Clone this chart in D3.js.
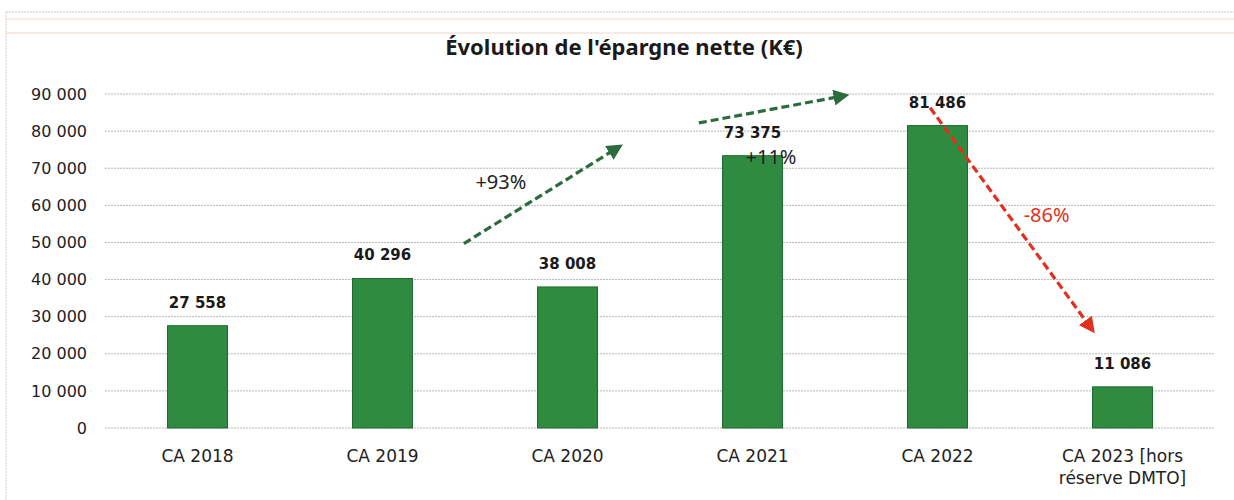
<!DOCTYPE html>
<html>
<head>
<meta charset="utf-8">
<script src="https://cdn.jsdelivr.net/npm/d3@7"></script>
<style>
  body { margin: 0; background: #fff; }
  svg { display: block; font-family: "DejaVu Sans", sans-serif; }
</style>
</head>
<body>
<script>
const categories = ["CA 2018", "CA 2019", "CA 2020", "CA 2021", "CA 2022", "CA 2023 [hors réserve DMTO]"];
const values = [27558, 40296, 38008, 73375, 81486, 11086];
const valueLabels = ["27 558", "40 296", "38 008", "73 375", "81 486", "11 086"];
const yTicks = [0, 10000, 20000, 30000, 40000, 50000, 60000, 70000, 80000, 90000];

// annotation arrows, anchored in category / value space
const arrows = [
  { from: ["CA 2019", 0.44, 49700], to: ["CA 2020", 0.27, 75500], color: "#2c6b3c" },
  { from: ["CA 2021", -0.29, 82200], to: ["CA 2022", -0.51, 89500], color: "#2c6b3c" },
  { from: ["CA 2022", -0.04, 86300], to: ["CA 2023 [hors réserve DMTO]", -0.17, 26900], color: "#e0301e" }
];
const notes = [
  { text: "+93%", at: ["CA 2019", 0.64, 64500], color: "#222" },
  { text: "+11%", at: ["CA 2021", 0.10, 71200], color: "#222" },
  { text: "-86%", at: ["CA 2023 [hors réserve DMTO]", -0.41, 55600], color: "#e0301e" }
];

const W = 1234, H = 500;
const margin = { left: 105, right: 19, top: 94, bottom: 72 };

const svg = d3.select("body").append("svg").attr("width", W).attr("height", H);

// page frame
svg.append("line").attr("x1", 6).attr("x2", W).attr("y1", 12).attr("y2", 12)
  .attr("stroke", "#c8c8c8").attr("stroke-dasharray", "2,1");
svg.append("line").attr("x1", 6).attr("x2", W).attr("y1", 19).attr("y2", 19)
  .attr("stroke", "#f0dccc");
svg.append("line").attr("x1", 6).attr("x2", W).attr("y1", 33).attr("y2", 33)
  .attr("stroke", "#f0d6c6");
svg.append("line").attr("x1", 6).attr("x2", 6).attr("y1", 12).attr("y2", H)
  .attr("stroke", "#cfcfcf").attr("stroke-dasharray", "2,1");

svg.append("text").attr("x", 624).attr("y", 55).attr("text-anchor", "middle")
  .attr("font-family", "\"Noto Sans\", sans-serif")
  .attr("font-size", 22).attr("font-weight", "bold").attr("fill", "#1a1a1a")
  .text("Évolution de l'épargne nette (K€)");

const x = d3.scaleBand().domain(categories)
  .range([margin.left, W - margin.right])
  .paddingInner(0.676).paddingOuter(0.338);

const y = d3.scaleLinear().domain([0, 90000]).range([H - margin.bottom, margin.top]);

// grid
svg.append("g").selectAll("line").data(yTicks).join("line")
  .attr("x1", margin.left).attr("x2", W - margin.right)
  .attr("y1", d => y(d)).attr("y2", d => y(d))
  .attr("stroke", "#b8b8b8").attr("stroke-width", 1).attr("stroke-dasharray", "2,1");

// y axis labels
const yAxis = d3.axisLeft(y).tickValues(yTicks).tickSize(0).tickPadding(18)
  .tickFormat(d => d3.format(",")(d).replace(/,/g, " "));
const gy = svg.append("g").attr("transform", "translate(" + margin.left + ",0)").call(yAxis);
gy.select(".domain").remove();
gy.selectAll("text").attr("font-size", 16).attr("fill", "#222")
  .attr("font-family", "\"DejaVu Sans\", sans-serif");

// bars
svg.append("g").selectAll("rect").data(values).join("rect")
  .attr("x", (d, i) => x(categories[i]))
  .attr("y", d => y(d))
  .attr("width", x.bandwidth())
  .attr("height", d => y(0) - y(d))
  .attr("fill", "#2e8b40").attr("stroke", "#1d6a2e").attr("stroke-width", 1);

// value labels
svg.append("g").selectAll("text").data(values).join("text")
  .attr("x", (d, i) => x(categories[i]) + x.bandwidth() / 2)
  .attr("y", d => y(d) - 18)
  .attr("text-anchor", "middle").attr("font-size", 15).attr("font-weight", "bold")
  .attr("fill", "#1a1a1a")
  .text((d, i) => valueLabels[i]);

// category labels
const xl = svg.append("g").selectAll("text").data(categories).join("text")
  .attr("x", d => x(d) + x.bandwidth() / 2)
  .attr("y", H - margin.bottom + 34)
  .attr("text-anchor", "middle").attr("font-size", 17).attr("fill", "#222");
xl.each(function(d) {
  const t = d3.select(this);
  const parts = d.indexOf("[") > 0 ? ["CA 2023 [hors", "réserve DMTO]"] : [d];
  parts.forEach((p, k) => {
    t.append("tspan").attr("x", x(d) + x.bandwidth() / 2).attr("dy", k ? 22 : 0).text(p);
  });
});

function px(a) { return x(a[0]) + x.bandwidth() / 2 + a[1] * x.step(); }

const defs = svg.append("defs");
arrows.forEach((a, i) => {
  defs.append("marker").attr("id", "ah" + i)
    .attr("viewBox", "0 0 10 10").attr("refX", 6).attr("refY", 5)
    .attr("markerWidth", 5).attr("markerHeight", 5).attr("orient", "auto")
    .append("path").attr("d", "M0,0 L10,5 L0,10 Z").attr("fill", a.color);
});

svg.append("g").selectAll("line").data(arrows).join("line")
  .attr("x1", d => px(d.from)).attr("y1", d => y(d.from[2]))
  .attr("x2", d => px(d.to)).attr("y2", d => y(d.to[2]))
  .attr("stroke", d => d.color).attr("stroke-width", 3.2)
  .attr("stroke-dasharray", "8,4")
  .attr("marker-end", (d, i) => "url(#ah" + i + ")");

svg.append("g").selectAll("text").data(notes).join("text")
  .attr("x", d => px(d.at)).attr("y", d => y(d.at[2]))
  .attr("text-anchor", "middle").attr("font-size", 20)
  .attr("font-family", "\"Noto Sans\", sans-serif")
  .attr("fill", d => d.color)
  .text(d => d.text);
</script>
</body>
</html>
